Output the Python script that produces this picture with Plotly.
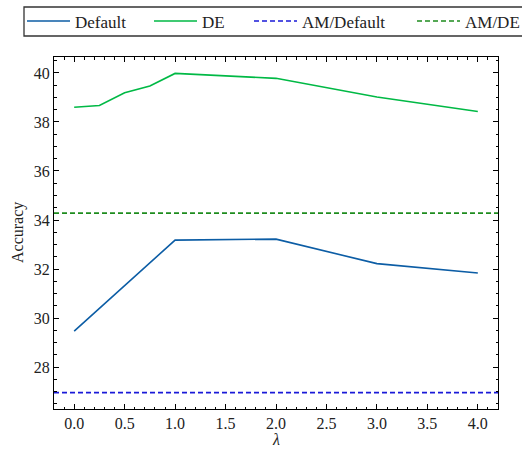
import plotly.graph_objects as go

lam_default = [0.0, 1.0, 2.0, 3.0, 4.0]
acc_default = [29.47, 33.18, 33.22, 32.22, 31.84]
lam_de = [0.0, 0.25, 0.5, 0.75, 1.0, 2.0, 3.0, 4.0]
acc_de = [38.60, 38.67, 39.19, 39.47, 39.98, 39.78, 39.02, 38.43]
am_default = 26.96
am_de = 34.28
x_span = [-0.2, 4.2]

FONT = "Liberation Serif, DejaVu Serif, Times New Roman, serif"

fig = go.Figure()
fig.add_trace(go.Scatter(x=lam_default, y=acc_default, mode="lines", name="Default",
                         line=dict(color="#0C5DA5", width=1.6), legend="legend"))
fig.add_trace(go.Scatter(x=lam_de, y=acc_de, mode="lines", name="DE",
                         line=dict(color="#00B945", width=1.6), legend="legend2"))
fig.add_trace(go.Scatter(x=x_span, y=[am_default, am_default], mode="lines", name="AM/Default",
                         line=dict(color="#1a1ad8", width=1.6, dash="5px,3px"), legend="legend3"))
fig.add_trace(go.Scatter(x=x_span, y=[am_de, am_de], mode="lines", name="AM/DE",
                         line=dict(color="#1e8c1e", width=1.6, dash="5px,3px"), legend="legend4"))

axis_common = dict(showline=True, linecolor="black", linewidth=1, mirror="ticks",
                   ticks="inside", ticklen=5, tickwidth=1, tickcolor="black",
                   showgrid=False, zeroline=False,
                   tickfont=dict(family=FONT, size=16, color="#222"))

fig.update_xaxes(range=x_span, tickvals=[0, 0.5, 1, 1.5, 2, 2.5, 3, 3.5, 4],
                 ticktext=["0.0", "0.5", "1.0", "1.5", "2.0", "2.5", "3.0", "3.5", "4.0"],
                 minor=dict(dtick=0.1, ticks="inside", ticklen=2.5, tickcolor="black"),
                 automargin=False, **axis_common)
fig.update_yaxes(range=[26.29, 40.65], tickvals=[28, 30, 32, 34, 36, 38, 40],
                 minor=dict(dtick=0.5, ticks="inside", ticklen=2.5, tickcolor="black"),
                 automargin=False, **axis_common)

def leg(xp):
    return dict(x=(xp - 8) / 522, xanchor="left", xref="container",
                y=1 - 21.5 / 449, yanchor="middle", yref="container",
                orientation="h", bgcolor="rgba(0,0,0,0)", borderwidth=0,
                itemwidth=43,
                font=dict(family=FONT, size=17, color="#222"))

fig.update_layout(
    width=522, height=449,
    margin=dict(l=54, r=24, t=57, b=40),
    plot_bgcolor="white", paper_bgcolor="white",
    font=dict(family=FONT),
    showlegend=True,
    legend=leg(30), legend2=leg(157), legend3=leg(257), legend4=leg(420),
    shapes=[dict(type="rect", xref="paper", yref="paper",
                 x0=(24 - 54) / 444, x1=1.08, y0=(409 - 36) / 352, y1=(409 - 7) / 352,
                 line=dict(color="#333", width=1.3))],
    annotations=[
        dict(text="<i>λ</i>", xref="paper", x=0.5, xanchor="center",
             yref="paper", y=(409 - 439) / 352, yanchor="middle",
             showarrow=False, font=dict(family=FONT, size=16, color="#222")),
        dict(text="Accuracy", xref="paper", x=(18 - 54) / 444, xanchor="center",
             yref="paper", y=0.5, yanchor="middle", textangle=-90,
             showarrow=False, font=dict(family=FONT, size=16, color="#222")),
    ],
)

fig.write_html("out.html")
